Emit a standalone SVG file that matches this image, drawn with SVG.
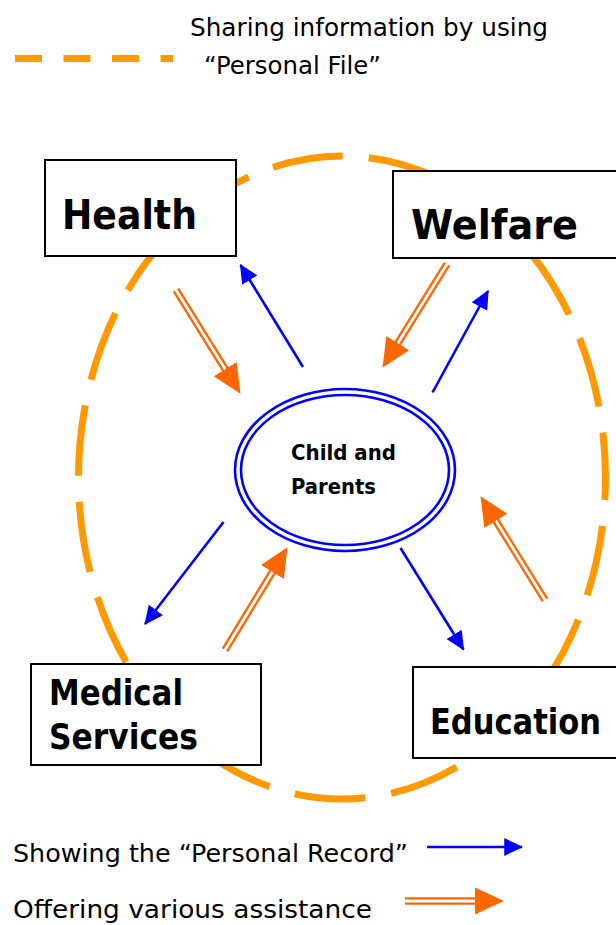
<svg xmlns="http://www.w3.org/2000/svg" width="616" height="925" viewBox="0 0 616 925">
  <style>
    .box { fill: #ffffff; stroke: #000000; stroke-width: 2; }
    .lbl { font-family: "Comic Sans MS", "DejaVu Sans", sans-serif; font-weight: bold; fill: #000000; }
    .leg { font-family: "Comic Sans MS", "DejaVu Sans", sans-serif; fill: #000000; }
    .blue { stroke: #0000FF; stroke-width: 2.6; fill: none; }
    .o-out { stroke: #FF6600; stroke-width: 7.5; fill: none; }
    .o-in { stroke: #FFFFFF; stroke-width: 2.8; fill: none; }
    .file { fill: none; stroke: #FF9900; stroke-width: 7; }
  </style>
  <defs>
    <marker id="bh" markerUnits="userSpaceOnUse" markerWidth="20" markerHeight="20" viewBox="0 -9 18 18" refX="16" refY="0" orient="auto">
      <path d="M0,-8 L17,0 L0,8 z" fill="#0000FF"/>
    </marker>
    <marker id="oh" markerUnits="userSpaceOnUse" markerWidth="30" markerHeight="30" viewBox="0 -14 29 28" refX="2" refY="0" orient="auto">
      <path d="M0,-13 L28,0 L0,13 z" fill="#FF6600"/>
    </marker>
  </defs>

  <rect width="616" height="925" fill="#ffffff"/>

  <!-- Top legend -->
  <g id="legend-file">
    <line x1="15" y1="58.5" x2="173" y2="58.5" class="file" stroke-dasharray="27 21.5"/>
    <text class="leg" x="190" y="36" font-size="24" textLength="358" lengthAdjust="spacingAndGlyphs">Sharing information by using</text>
    <text class="leg" x="204" y="74" font-size="24" textLength="177" lengthAdjust="spacingAndGlyphs">“Personal File”</text>
  </g>

  <!-- Personal File dashed ellipse -->
  <g id="personal-file-ring">
    <ellipse cx="342" cy="477.5" rx="263.5" ry="321.5" class="file" stroke-dasharray="71 26.1" stroke-dashoffset="48.5"/>
  </g>

  <!-- Connectors -->
  <g id="connectors">
    <!-- Showing the Personal Record (blue) -->
    <line class="blue" x1="303" y1="367" x2="240.5" y2="265" marker-end="url(#bh)"/>
    <line class="blue" x1="432.5" y1="392.5" x2="488" y2="291" marker-end="url(#bh)"/>
    <line class="blue" x1="223.5" y1="522" x2="145" y2="624" marker-end="url(#bh)"/>
    <line class="blue" x1="400.5" y1="548" x2="463.5" y2="649.5" marker-end="url(#bh)"/>

    <!-- Offering various assistance (orange double) -->
    <g>
      <line class="o-out" x1="176" y1="290" x2="226.3" y2="370.9"/>
      <line class="o-in" x1="176" y1="290" x2="226.3" y2="370.9" marker-end="url(#oh)"/>
    </g>
    <g>
      <line class="o-out" x1="447" y1="264" x2="396.7" y2="344.9"/>
      <line class="o-in" x1="447" y1="264" x2="396.7" y2="344.9" marker-end="url(#oh)"/>
    </g>
    <g>
      <line class="o-out" x1="225" y1="650" x2="273.5" y2="570.2"/>
      <line class="o-in" x1="225" y1="650" x2="273.5" y2="570.2" marker-end="url(#oh)"/>
    </g>
    <g>
      <line class="o-out" x1="545" y1="600" x2="494.7" y2="519.1"/>
      <line class="o-in" x1="545" y1="600" x2="494.7" y2="519.1" marker-end="url(#oh)"/>
    </g>
  </g>

  <!-- Nodes -->
  <g id="node-health">
    <rect class="box" x="45" y="160" width="191" height="96"/>
    <text class="lbl" x="62" y="229" font-size="40" textLength="135" lengthAdjust="spacingAndGlyphs">Health</text>
  </g>

  <g id="node-welfare">
    <rect class="box" x="393" y="171" width="240" height="87"/>
    <text class="lbl" x="411" y="239" font-size="40" textLength="167" lengthAdjust="spacingAndGlyphs">Welfare</text>
  </g>

  <g id="node-medical">
    <rect class="box" x="31" y="664" width="230" height="101"/>
    <text class="lbl" x="49" y="705" font-size="36" textLength="134" lengthAdjust="spacingAndGlyphs">Medical</text>
    <text class="lbl" x="49" y="749" font-size="36" textLength="149" lengthAdjust="spacingAndGlyphs">Services</text>
  </g>

  <g id="node-education">
    <rect class="box" x="413" y="667" width="230" height="91"/>
    <text class="lbl" x="430" y="734" font-size="36" textLength="171" lengthAdjust="spacingAndGlyphs">Education</text>
  </g>

  <g id="node-child">
    <ellipse cx="345" cy="470" rx="110" ry="81" fill="#ffffff" stroke="#0000FF" stroke-width="2.6"/>
    <ellipse cx="345" cy="470" rx="104" ry="75" fill="none" stroke="#0000FF" stroke-width="2.6"/>
    <text class="lbl" x="291" y="460" font-size="21" textLength="105" lengthAdjust="spacingAndGlyphs">Child and</text>
    <text class="lbl" x="291" y="494" font-size="21" textLength="85" lengthAdjust="spacingAndGlyphs">Parents</text>
  </g>

  <!-- Bottom legend -->
  <g id="legend-record">
    <text class="leg" x="13" y="862" font-size="25" textLength="395" lengthAdjust="spacingAndGlyphs">Showing the “Personal Record”</text>
    <line class="blue" x1="427" y1="847" x2="522" y2="847" marker-end="url(#bh)"/>
  </g>
  <g id="legend-assist">
    <text class="leg" x="13" y="918" font-size="25" textLength="359" lengthAdjust="spacingAndGlyphs">Offering various assistance</text>
    <line class="o-out" x1="405" y1="901" x2="477" y2="901"/>
    <line class="o-in" x1="405" y1="901" x2="477" y2="901" marker-end="url(#oh)"/>
  </g>
</svg>
